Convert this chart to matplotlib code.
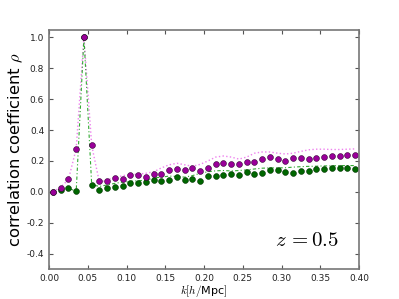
import matplotlib
matplotlib.use('Agg')
import matplotlib.pyplot as plt
import numpy as np

plt.rcParams['mathtext.fontset'] = 'cm'

# k bins (h/Mpc)
k = np.arange(40) * 0.01 + 0.005

# measured correlation coefficient (points)
rho_m = [-0.004, 0.022, 0.082, 0.275, 1.0, 0.30, 0.067, 0.073, 0.088, 0.085,
         0.108, 0.106, 0.097, 0.114, 0.114, 0.142, 0.146, 0.142, 0.155, 0.137,
         0.155, 0.181, 0.185, 0.183, 0.183, 0.192, 0.192, 0.213, 0.224, 0.213,
         0.202, 0.217, 0.217, 0.213, 0.217, 0.226, 0.232, 0.232, 0.241, 0.241]
rho_g = [0.0, 0.015, 0.022, 0.005, 1.0, 0.046, 0.015, 0.028, 0.034, 0.041,
         0.056, 0.056, 0.063, 0.076, 0.072, 0.074, 0.094, 0.074, 0.082, 0.067,
         0.103, 0.103, 0.112, 0.117, 0.112, 0.129, 0.113, 0.121, 0.140, 0.140,
         0.131, 0.125, 0.135, 0.137, 0.146, 0.148, 0.157, 0.153, 0.157, 0.146]

# expected curves (lines)
line_m = [0.0, 0.03, 0.08, 0.28, 1.0, 0.30, 0.06, 0.08, 0.09, 0.105,
          0.11, 0.115, 0.12, 0.13, 0.155, 0.175, 0.185, 0.175, 0.165, 0.178,
          0.20, 0.225, 0.232, 0.225, 0.212, 0.225, 0.25, 0.258, 0.258, 0.25,
          0.245, 0.25, 0.262, 0.272, 0.276, 0.276, 0.274, 0.274, 0.276, 0.278]
line_g = [0.0, 0.02, 0.022, 0.005, 1.0, 0.046, 0.035, 0.045, 0.055, 0.063,
          0.068, 0.072, 0.075, 0.09, 0.095, 0.102, 0.10, 0.095, 0.105, 0.12,
          0.13, 0.136, 0.138, 0.135, 0.138, 0.142, 0.148, 0.153, 0.155, 0.155,
          0.156, 0.16, 0.163, 0.165, 0.166, 0.168, 0.168, 0.17, 0.17, 0.17]

fig = plt.figure(figsize=(3.99, 2.99), dpi=100)
ax = fig.add_axes([0.123, 0.1, 0.777, 0.801])

ax.plot(k, line_m, ls=':', color='violet', lw=1.0)
ax.plot(k, line_g, ls='-.', color='#33aa33', lw=0.8, dashes=(3, 2, 1, 2))
ax.plot(k, rho_g, 'o', color='#006600', ms=4.2, mec='#003300', mew=0.4)
ax.plot(k, rho_m, 'o', color='#990099', ms=4.2, mec='#330033', mew=0.4)

ax.set_xlim(0, 0.4)
ax.set_ylim(-0.5, 1.05)
ax.set_xticks(np.arange(0, 0.41, 0.05))
ax.set_yticks(np.arange(-0.4, 1.01, 0.2))
ax.set_xticklabels(['%.2f' % v for v in np.arange(0, 0.41, 0.05)])
ax.set_yticklabels(['%.1f' % v for v in np.arange(-0.4, 1.01, 0.2)])
ax.tick_params(direction='in', top=True, right=True, labelsize=6.5,
               colors='#555555', labelcolor='#222222', length=3)
for s in ax.spines.values():
    s.set_color('#777777')
    s.set_linewidth(1.2)

ax.set_xlabel(r'$k[h/$Mpc$]$', fontsize=8, labelpad=0)
ax.set_ylabel(r'correlation coefficient $\rho$', fontsize=11.8, labelpad=1)
ax.text(0.935, 0.096, r'$z\,{=}0.5$', transform=ax.transAxes, fontsize=15,
        ha='right', va='baseline')

fig.savefig('out.png', dpi=100)
